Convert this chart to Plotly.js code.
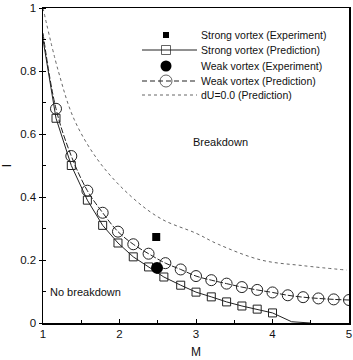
<!DOCTYPE html>
<html>
<head>
<meta charset="utf-8">
<script src="https://cdn.plot.ly/plotly-3.0.1.min.js"></script>
<style>html,body{margin:0;padding:0;background:#fff;}#chart{width:353px;height:360px;}</style>
</head>
<body>
<div id="chart"></div>
<script>
// ---- data ----
var strongExpM = [2.48];
var strongExpI = [0.273];
var weakExpM = [2.49];
var weakExpI = [0.175];

var strongPredM = [1.17, 1.37, 1.58, 1.78, 1.98, 2.18, 2.38, 2.58, 2.8, 3.0, 3.2, 3.4, 3.6, 3.8, 4.0];
var strongPredI = [0.65, 0.50, 0.39, 0.31, 0.254, 0.21, 0.178, 0.146, 0.12, 0.098, 0.083, 0.067, 0.054, 0.044, 0.032];
var strongCurveStartM = [1.0], strongCurveStartI = [0.9];
var strongCurveEndM = [4.25, 4.5], strongCurveEndI = [0.004, 0.0];

var weakPredM = [1.17, 1.37, 1.58, 1.78, 1.98, 2.18, 2.38, 2.6, 2.8, 3.0, 3.2, 3.4, 3.6, 3.8, 4.0, 4.2, 4.4, 4.6, 4.8, 5.0];
var weakPredI = [0.68, 0.53, 0.42, 0.35, 0.29, 0.25, 0.22, 0.19, 0.17, 0.149, 0.136, 0.125, 0.114, 0.105, 0.097, 0.088, 0.082, 0.078, 0.075, 0.073];
var weakCurveStartM = [1.0], weakCurveStartI = [0.92];

var du0M = [1.0, 1.2, 1.41, 1.74, 2.16, 2.55, 3.0, 3.29, 3.85, 4.4, 4.97];
var du0I = [1.0, 0.8, 0.645, 0.51, 0.40, 0.33, 0.285, 0.25, 0.20, 0.182, 0.168];

var legendLabels = ['Strong vortex (Experiment)', 'Strong vortex (Prediction)', 'Weak vortex (Experiment)', 'Weak vortex (Prediction)', 'dU=0.0 (Prediction)'];
var xTickVals = [1, 2, 3, 4, 5];
var xTickText = ['1', '2', '3', '4', '5'];
var yTickVals = [0, 0.2, 0.4, 0.6, 0.8, 1];
var yTickText = ['0', '0.2', '0.4', '0.6', '0.8', '1'];

// ---- layout constants (pixels) ----
var W = 353, H = 360, L = 43, R = 4, T = 8, B = 37;
var pw = W - L - R, ph = H - T - B;
function px(xp) { return (xp - L) / pw; }
function py(yp) { return (H - B - yp) / ph; }
var legRows = [35, 50, 66, 81, 95];
var legX0 = 142, legX1 = 197, legXm = 166, legXt = 199;

var FONT = 'Liberation Sans, Arial, sans-serif';

var traces = [
  // dU = 0
  {x: du0M, y: du0I, mode: 'lines', line: {color: '#666', width: 1, dash: 'dot', shape: 'spline'}, hoverinfo: 'skip'},
  // strong prediction curve
  {x: strongCurveStartM.concat(strongPredM, strongCurveEndM), y: strongCurveStartI.concat(strongPredI, strongCurveEndI),
   mode: 'lines', line: {color: '#222', width: 1, shape: 'linear'}},
  {x: strongPredM, y: strongPredI, mode: 'markers',
   marker: {symbol: 'square-open', size: 8, color: '#222', line: {width: 1}}},
  // weak prediction curve
  {x: weakCurveStartM.concat(weakPredM), y: weakCurveStartI.concat(weakPredI),
   mode: 'lines', line: {color: '#222', width: 1, dash: '6px,2px', shape: 'spline'}},
  {x: weakPredM, y: weakPredI, mode: 'markers',
   marker: {symbol: 'circle-open', size: 11, color: '#222', line: {width: 1}}},
  // experiments
  {x: strongExpM, y: strongExpI, mode: 'markers', marker: {symbol: 'square', size: 8, color: '#000'}},
  {x: weakExpM, y: weakExpI, mode: 'markers', marker: {symbol: 'circle', size: 12, color: '#000'}},
  // legend samples (overlay axes in plot fractions)
  {x: [px(legXm)], y: [py(legRows[0])], xaxis: 'x2', yaxis: 'y2', mode: 'markers', marker: {symbol: 'square', size: 6, color: '#000'}},
  {x: [px(legX0), px(legXm), px(legX1)], y: [py(legRows[1]), py(legRows[1]), py(legRows[1])], xaxis: 'x2', yaxis: 'y2',
   mode: 'lines+markers', line: {color: '#222', width: 1}, marker: {symbol: ['line-ew', 'square-open', 'line-ew'], size: [0, 9, 0], color: '#222', line: {width: 1, color: '#222'}}},
  {x: [px(legXm)], y: [py(legRows[2])], xaxis: 'x2', yaxis: 'y2', mode: 'markers', marker: {symbol: 'circle', size: 11, color: '#000'}},
  {x: [px(legX0), px(legXm), px(legX1)], y: [py(legRows[3]), py(legRows[3]), py(legRows[3])], xaxis: 'x2', yaxis: 'y2',
   mode: 'lines+markers', line: {color: '#222', width: 1, dash: '5px,3px'}, marker: {symbol: ['line-ew', 'circle-open', 'line-ew'], size: [0, 12, 0], color: '#222', line: {width: 1, color: '#222'}}},
  {x: [px(legX0), px(legX1)], y: [py(legRows[4]), py(legRows[4])], xaxis: 'x2', yaxis: 'y2',
   mode: 'lines', line: {color: '#666', width: 1, dash: 'dot'}}
];

var annotations = legendLabels.map(function (t, i) {
  return {xref: 'paper', yref: 'paper', x: px(legXt), y: py(legRows[i]), text: t, showarrow: false,
          xanchor: 'left', yanchor: 'middle', font: {family: FONT, size: 10.5, color: '#111'}};
});
annotations.push({xref: 'x', yref: 'y', x: 2.94, y: 0.575, text: 'Breakdown', showarrow: false, xanchor: 'left', yanchor: 'middle', font: {family: FONT, size: 11, color: '#111'}});
annotations.push({xref: 'x', yref: 'y', x: 1.065, y: 0.098, text: 'No breakdown', showarrow: false, xanchor: 'left', yanchor: 'middle', font: {family: FONT, size: 11, color: '#111'}});

var layout = {
  width: W, height: H,
  margin: {l: L, r: R, t: T, b: B},
  paper_bgcolor: '#fff', plot_bgcolor: '#fff',
  showlegend: false,
  font: {family: FONT, size: 11, color: '#111'},
  xaxis: {range: [1, 5], tickvals: xTickVals, ticktext: xTickText, showgrid: false, zeroline: false,
          showline: true, linecolor: '#000', linewidth: 1.5, mirror: true,
          ticks: 'inside', ticklen: 4, tickcolor: '#000', tickwidth: 1,
          minor: {dtick: 0.5, ticks: 'inside', ticklen: 3, tickcolor: '#000'},
          tickfont: {family: FONT, size: 11.5},
          title: {text: 'M', font: {family: FONT, size: 12}, standoff: 8}},
  yaxis: {range: [0, 1], tickvals: yTickVals, ticktext: yTickText, showgrid: false, zeroline: false,
          showline: true, linecolor: '#000', linewidth: 1.5, mirror: true,
          ticks: 'outside', ticklen: 3, tickcolor: '#000', tickwidth: 1,
          minor: {dtick: 0.1, ticks: 'inside', ticklen: 3, tickcolor: '#000'},
          tickfont: {family: FONT, size: 11.5},
          title: {text: 'I', font: {family: FONT, size: 12}, standoff: 14}},
  xaxis2: {range: [0, 1], overlaying: 'x', visible: false, fixedrange: true},
  yaxis2: {range: [0, 1], overlaying: 'y', visible: false, fixedrange: true},
  annotations: annotations
};

Plotly.newPlot('chart', traces, layout, {displayModeBar: false, staticPlot: true});
</script>
</body>
</html>
